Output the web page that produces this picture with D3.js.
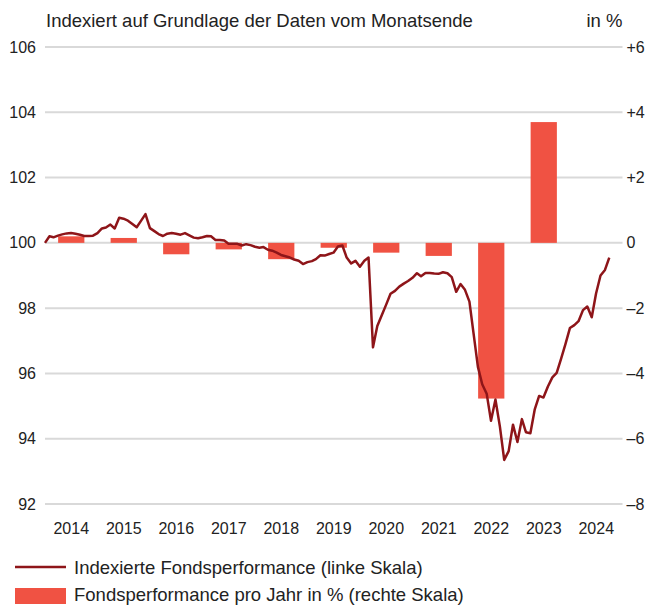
<!DOCTYPE html>
<html>
<head>
<meta charset="utf-8">
<script src="https://cdn.jsdelivr.net/npm/d3@7"></script>
<style>
  body { margin: 0; background: #fff; }
  svg text { font-family: "Liberation Sans", Arial, sans-serif; fill: #222; }
</style>
</head>
<body>
<div id="container"></div>
<script>
var years = [2014, 2015, 2016, 2017, 2018, 2019, 2020, 2021, 2022, 2023, 2024]
var yearlyPerf = [0.2, 0.15, -0.35, -0.2, -0.5, -0.15, -0.3, -0.4, -4.77, 3.7, null]

// monthly index values, first value = end of Dec 2013
var indexValues = [
  100.0, 100.2, 100.17, 100.22, 100.26, 100.29, 100.3, 100.28, 100.25, 100.21, 100.21, 100.22,
  100.3, 100.44, 100.47, 100.56, 100.44, 100.77, 100.74, 100.68, 100.58, 100.48, 100.68, 100.88,
  100.45, 100.36, 100.27, 100.21, 100.28, 100.3, 100.28, 100.25, 100.3, 100.23, 100.16, 100.14,
  100.17, 100.21, 100.2, 100.09, 100.09, 100.07, 99.97, 99.97, 99.97, 99.92, 99.96, 99.93,
  99.88, 99.85, 99.87, 99.79, 99.76, 99.7, 99.63, 99.59, 99.55, 99.49, 99.45, 99.35,
  99.41, 99.44, 99.5, 99.62, 99.61, 99.66, 99.7, 99.89, 99.92, 99.55, 99.37, 99.45,
  99.27, 99.45, 99.55, 96.8, 97.45, 97.78, 98.1, 98.44, 98.53, 98.66, 98.75, 98.83,
  98.93, 99.07, 98.98, 99.08, 99.08, 99.06, 99.05, 99.1, 99.07, 98.95, 98.5, 98.74,
  98.56, 98.2, 97.25, 96.2, 95.67, 95.38, 94.55, 95.2, 94.37, 93.35, 93.62, 94.43,
  93.9, 94.6, 94.2, 94.17, 94.89, 95.31, 95.26, 95.6, 95.88, 96.02, 96.45, 96.9,
  97.39, 97.48, 97.6, 97.94, 98.05, 97.72, 98.45, 99.0, 99.17, 99.55
]

var leftTicks = [92, 94, 96, 98, 100, 102, 104, 106]
var rightTicks = [-8, -6, -4, -2, 0, 2, 4, 6]

var titleText = 'Indexiert auf Grundlage der Daten vom Monatsende'
var unitText = 'in %'
var legendLine = 'Indexierte Fondsperformance (linke Skala)'
var legendBar = 'Fondsperformance pro Jahr in % (rechte Skala)'

var lineColor = '#8e1519'
var barColor = '#f05243'
var gridColor = '#d9d9d9'

var width = 651
var height = 605
var pLeft = 45
var pRight = 622.5
var pTop = 47
var pBottom = 504

var svg = d3.select('#container').append('svg')
  .attr('width', width).attr('height', height)

var lineData = indexValues.map(function (v, i) {
  return { date: d3.timeMonth.offset(new Date(2014, 0, 1), i), value: v }
})

var x = d3.scaleTime()
  .domain([new Date(2014, 0, 1), new Date(2025, 0, 1)])
  .range([pLeft, pRight])

var xBand = d3.scaleBand()
  .domain(years)
  .range([pLeft, pRight])
  .paddingInner(0.5)
  .paddingOuter(0.25)

var yLeft = d3.scaleLinear().domain([92, 106]).range([pBottom, pTop])
var yRight = d3.scaleLinear().domain([-8, 6]).range([pBottom, pTop])

// grid
svg.append('g').selectAll('line')
  .data(leftTicks)
  .enter().append('line')
  .attr('x1', pLeft).attr('x2', pRight)
  .attr('y1', yLeft).attr('y2', yLeft)
  .attr('stroke', gridColor)
  .attr('stroke-width', 2)

// left axis
var axL = svg.append('g')
  .attr('transform', 'translate(' + (pLeft - 9) + ',0)')
  .call(d3.axisLeft(yLeft).tickValues(leftTicks).tickSize(0).tickPadding(0))
axL.select('.domain').remove()
axL.selectAll('text').style('font-size', '16px')

// right axis
var axR = svg.append('g')
  .attr('transform', 'translate(' + (pRight + 4) + ',0)')
  .call(d3.axisRight(yRight).tickValues(rightTicks).tickSize(0).tickPadding(0)
    .tickFormat(function (d) { return d > 0 ? '+' + d : d < 0 ? '\u2013' + Math.abs(d) : '0' }))
axR.select('.domain').remove()
axR.selectAll('text').style('font-size', '16px')

// x axis
var axX = svg.append('g')
  .attr('transform', 'translate(0,' + (pBottom + 15) + ')')
  .call(d3.axisBottom(xBand).tickSize(0).tickPadding(4))
axX.select('.domain').remove()
axX.selectAll('text').style('font-size', '16px')

// bars
var barData = years.map(function (y, i) { return { year: y, value: yearlyPerf[i] } })
  .filter(function (d) { return d.value !== null })

svg.append('g').selectAll('rect')
  .data(barData)
  .enter().append('rect')
  .attr('x', function (d) { return xBand(d.year) })
  .attr('width', xBand.bandwidth())
  .attr('y', function (d) { return yRight(Math.max(0, d.value)) })
  .attr('height', function (d) { return Math.abs(yRight(d.value) - yRight(0)) })
  .attr('fill', barColor)

// line
var line = d3.line()
  .x(function (d) { return x(d.date) })
  .y(function (d) { return yLeft(d.value) })

svg.append('path')
  .datum(lineData)
  .attr('d', line)
  .attr('fill', 'none')
  .attr('stroke', lineColor)
  .attr('stroke-width', 2.5)
  .attr('stroke-linejoin', 'round')

// titles
svg.append('text')
  .attr('x', pLeft + 1).attr('y', 27)
  .style('font-size', '18.5px')
  .text(titleText)

svg.append('text')
  .attr('x', pRight).attr('y', 27)
  .attr('text-anchor', 'end')
  .style('font-size', '18.5px')
  .text(unitText)

// legend
var lg = svg.append('g')
lg.append('line')
  .attr('x1', 15).attr('x2', 66)
  .attr('y1', 567).attr('y2', 567)
  .attr('stroke', lineColor).attr('stroke-width', 2.5)
lg.append('text')
  .attr('x', 74).attr('y', 574)
  .style('font-size', '18.5px')
  .text(legendLine)
lg.append('rect')
  .attr('x', 15).attr('y', 588)
  .attr('width', 51).attr('height', 16)
  .attr('fill', barColor)
lg.append('text')
  .attr('x', 74).attr('y', 601)
  .style('font-size', '18.5px')
  .text(legendBar)
</script>
</body>
</html>
